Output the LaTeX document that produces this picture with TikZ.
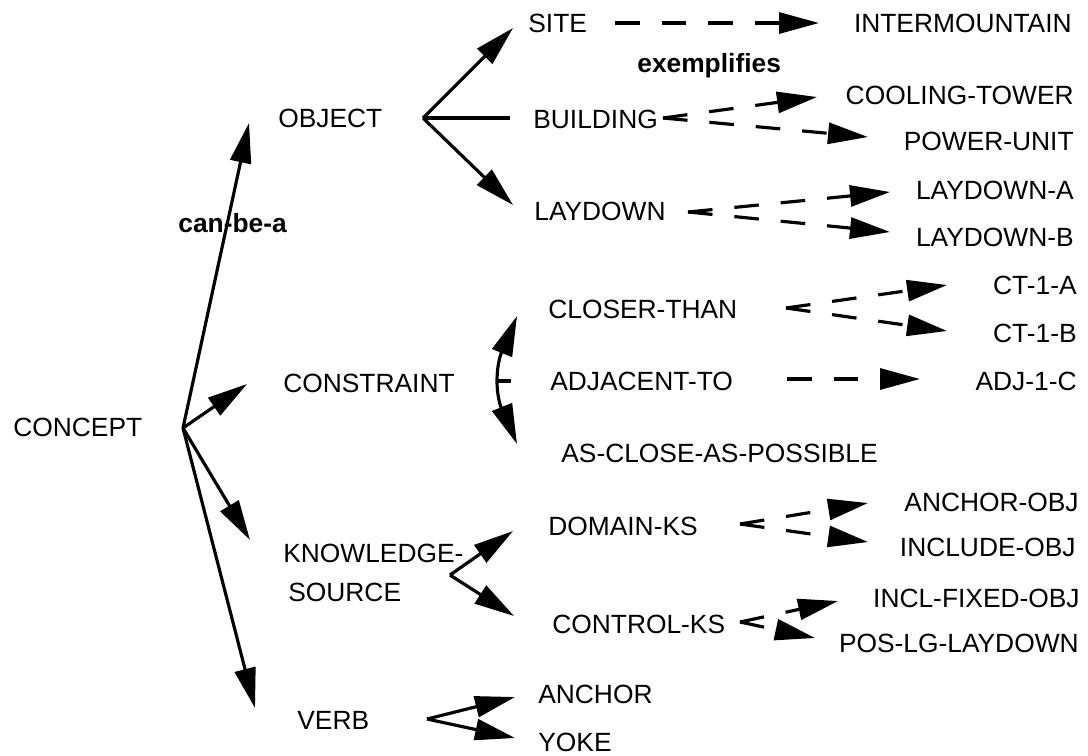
\documentclass[tikz,border=0pt]{standalone}
\usepackage{fontspec}
\setmainfont{Liberation Sans}
\usetikzlibrary{arrows.meta}
\begin{document}
\begin{tikzpicture}[x=0.02cm,y=-0.02cm,
  lbl/.style={font=\fontsize{15}{18}\selectfont, inner sep=0pt, anchor=base west},
  lblr/.style={lbl, anchor=base east},
  rel/.style={font=\fontsize{15}{18}\selectfont\bfseries, inner sep=0pt, anchor=base west},
  plainline/.style={line width=1.8pt},
  link/.style={line width=1.8pt, -{Triangle[length=8mm,width=4.2mm]}},
  dlink/.style={link, dash pattern=on 14pt off 12.5pt}]
\useasboundingbox (0,0) rectangle (1088,755);

% ---- text nodes
\node[lbl] (concept) at (13,436) {CONCEPT};
\node[lbl] (object) at (278,127) {OBJECT};
\node[lbl] (constraint) at (283,392) {CONSTRAINT};
\node[lbl] (ks) at (283,562) {KNOWLEDGE-};
\node[lbl] (ks2) at (288,601) {SOURCE};
\node[lbl] (verb) at (297,729) {VERB};

\node[lbl] (site) at (528,32) {SITE};
\node[lbl] (building) at (533,128) {BUILDING};
\node[lbl] (laydown) at (534,220) {LAYDOWN};
\node[lbl] (closer) at (548,318) {CLOSER-THAN};
\node[lbl] (adjacent) at (550,390) {ADJACENT-TO};
\node[lbl] (asclose) at (561,462) {AS-CLOSE-AS-POSSIBLE};
\node[lbl] (domainks) at (548,535) {DOMAIN-KS};
\node[lbl] (controlks) at (552,633) {CONTROL-KS};
\node[lbl] (anchor) at (538,703) {ANCHOR};
\node[lbl] (yoke) at (538,751) {YOKE};

\node[lblr] (intermountain) at (1072,32) {INTERMOUNTAIN};
\node[lblr] (cooling) at (1074,104) {COOLING-TOWER};
\node[lblr] (powerunit) at (1074,150) {POWER-UNIT};
\node[lblr] (laydowna) at (1074,199) {LAYDOWN-A};
\node[lblr] (laydownb) at (1074,246) {LAYDOWN-B};
\node[lblr] (cta) at (1077,294) {CT-1-A};
\node[lblr] (ctb) at (1077,342) {CT-1-B};
\node[lblr] (adjc) at (1077,390) {ADJ-1-C};
\node[lblr] (anchorobj) at (1079,511) {ANCHOR-OBJ};
\node[lblr] (includeobj) at (1076,556) {INCLUDE-OBJ};
\node[lblr] (inclfixed) at (1080,607) {INCL-FIXED-OBJ};
\node[lblr] (poslg) at (1079,652) {POS-LG-LAYDOWN};

% ---- connector points
\coordinate (root) at (183,428);
\coordinate (tObject) at (249,123);
\coordinate (tConstraint) at (247,384);
\coordinate (tKs) at (250,540);
\coordinate (tVerb) at (255,708);

\coordinate (oRoot) at (423,118);
\coordinate (tSite) at (513,28);
\coordinate (eBuilding) at (510,118);
\coordinate (tLaydown) at (513,205);

\coordinate (cMid) at (497,381);
\coordinate (cTop) at (517,316);
\coordinate (cBot) at (517,444);
\coordinate (cTick) at (511,381);

\coordinate (kRoot) at (450,575);
\coordinate (tDomain) at (513,531);
\coordinate (tControl) at (514,616);

\coordinate (vRoot) at (427,719);
\coordinate (tAnchor) at (515,697);
\coordinate (tYoke) at (515,738);

\coordinate (sStart) at (615,23);
\coordinate (sEnd) at (819,23);
\coordinate (bStart) at (663,118);
\coordinate (bUp) at (817,97);
\coordinate (bDown) at (868,137);
\coordinate (lStart) at (688,212);
\coordinate (lUp) at (890,192);
\coordinate (lDown) at (890,232);
\coordinate (ctStart) at (786,308);
\coordinate (ctUp) at (947,285);
\coordinate (ctDown) at (947,331);
\coordinate (aStart) at (787,379);
\coordinate (aEnd) at (920,379);
\coordinate (dStart) at (740,524);
\coordinate (dUp) at (868,503);
\coordinate (dDown) at (868,542);
\coordinate (kcStart) at (740,622);
\coordinate (kcUp) at (838,601);
\coordinate (kcDown) at (815,638);

% ---- can-be-a
\draw[link] (root) -- (tObject);
\draw[link] (root) -- (tConstraint);
\draw[link] (root) -- (tKs);
\draw[link] (root) -- (tVerb);
\node[rel] (canbea) at (178,232) {can-be-a};

\draw[link] (oRoot) -- (tSite);
\draw[plainline] (oRoot) -- (eBuilding);
\draw[link] (oRoot) -- (tLaydown);

\draw[link] (cMid) to[out=90,in=248] (cTop);
\draw[link] (cMid) to[out=-90,in=112] (cBot);
\draw[plainline] (cMid) -- (cTick);

\draw[link] (kRoot) -- (tDomain);
\draw[link] (kRoot) -- (tControl);

\draw[link] (vRoot) -- (tAnchor);
\draw[link] (vRoot) -- (tYoke);

% ---- exemplifies
\node[rel] (exemplifies) at (637,72) {exemplifies};
\draw[dlink] (sStart) -- (sEnd);
\draw[dlink] (bStart) -- (bUp);
\draw[dlink] (bStart) -- (bDown);
\draw[dlink] (lStart) -- (lUp);
\draw[dlink] (lStart) -- (lDown);
\draw[dlink] (ctStart) -- (ctUp);
\draw[dlink] (ctStart) -- (ctDown);
\draw[dlink] (aStart) -- (aEnd);
\draw[dlink] (dStart) -- (dUp);
\draw[dlink] (dStart) -- (dDown);
\draw[dlink] (kcStart) -- (kcUp);
\draw[dlink] (kcStart) -- (kcDown);
\end{tikzpicture}
\end{document}
